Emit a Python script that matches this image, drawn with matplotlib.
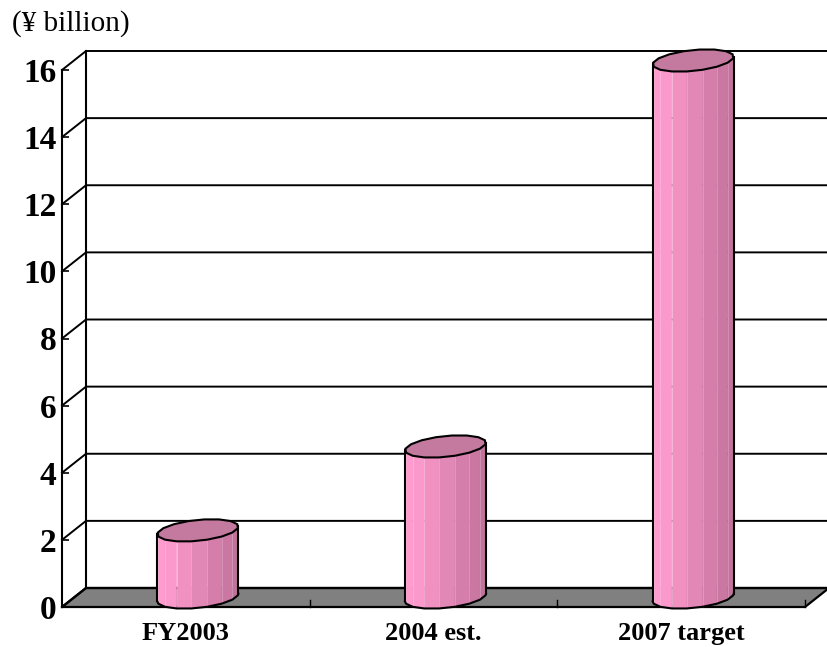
import numpy as np
import matplotlib
matplotlib.use("Agg")
import matplotlib.pyplot as plt
from matplotlib.patches import Polygon
from matplotlib.colors import to_rgb

# chart data
categories = ["FY2003", "2004 est.", "2007 target"]
values = [2.0, 4.5, 16.0]
y_ticks = [0, 2, 4, 6, 8, 10, 12, 14, 16]
unit_label = "(\u00a5 billion)"

SERIF = ["Liberation Serif", "DejaVu Serif"]
DPI = 100

fig = plt.figure(figsize=(8.28, 6.47), dpi=DPI)
fig_w, fig_h = fig.get_size_inches() * DPI

# front plane of the pseudo-3D box
ax = fig.add_axes([62 / fig_w, 40 / fig_h, 743 / fig_w, 537 / fig_h])
ax.set_xlim(-0.5, 2.5)
ax.set_ylim(0, 16)

# depth offset of the back wall (pixels -> data units)
px_x = 743 / 3.0
px_y = 537 / 16.0
ddx = 24 / px_x
ddy = 19 / px_y

x0, x1 = -0.5, 2.5
ymax = 16

# floor
floor = Polygon([(x0, 0), (x1, 0), (x1 + ddx, ddy), (x0 + ddx, ddy)],
                closed=True, facecolor="#808080", edgecolor="black",
                linewidth=1.6, clip_on=False, zorder=1)
ax.add_patch(floor)

# back wall vertical edge and left wall
ax.plot([x0 + ddx, x0 + ddx], [ddy, ymax + ddy], color="black", lw=1.5,
        clip_on=False, zorder=2)
for v in y_ticks:
    ax.plot([x0, x0 + ddx, x1 + ddx], [v, v + ddy, v + ddy],
            color="black", lw=1.4 if v else 1.6, clip_on=False, zorder=2)

# ticks on the floor front edge at category boundaries
for b in [0.5, 1.5, 2.5]:
    ax.plot([b, b], [0, 7 / px_y], color="black", lw=1.0,
            clip_on=False, zorder=2)


def draw_cylinder(ax, xc, value, n=16):
    # oblique projection of a polygonal cylinder standing at mid depth
    R = 38 / px_x
    D = 18.0
    ux, uy = 24 / np.hypot(24, 19), 19 / np.hypot(24, 19)
    base = ddy / 2
    top = value + ddy / 2
    cx = xc + ddx / 2

    th = np.linspace(0, 2 * np.pi, n + 1) + np.pi / n

    def ring(t, h):
        return (cx + R * np.cos(t) + D * np.sin(t) * ux / px_x,
                h + D * np.sin(t) * uy / px_y)

    # silhouette angles
    ts = np.arctan((D * ux / px_x) / R)
    t_left = np.pi + ts
    t_right = 2 * np.pi + ts
    allt = np.concatenate([th, th + 2 * np.pi, th - 2 * np.pi])
    front = np.concatenate([[t_left],
                            allt[(allt > t_left) & (allt < t_right)],
                            [t_right]])
    front = np.unique(front)

    light = np.array(to_rgb("#ff9bcf"))
    dark = np.array(to_rgb("#c0709a"))
    xl = ring(t_left, 0)[0]
    xr = ring(t_right, 0)[0]
    for a, b in zip(front[:-1], front[1:]):
        xa, ya = ring(a, base)
        xb, yb = ring(b, base)
        xa2, ya2 = ring(a, top)
        xb2, yb2 = ring(b, top)
        t = ((xa + xb) / 2 - xl) / (xr - xl)
        k = np.clip((t - 0.12) / 0.88, 0, 1)
        col = light * (1 - k) + dark * k
        ax.add_patch(Polygon([(xa, ya), (xb, yb), (xb2, yb2), (xa2, ya2)],
                             closed=True, facecolor=col, edgecolor=col,
                             linewidth=0.4, clip_on=False, zorder=3))
        # faint facet seams
        ax.plot([xb, xb2], [yb, yb2], color=(1, 1, 1, 0.25), lw=0.6,
                clip_on=False, zorder=3.1)

    # outline of the body
    bx, by = ring(front, base)
    ax.plot(bx, by, color="black", lw=1.5, clip_on=False, zorder=4)
    lx, ly = ring(t_left, base)
    lx2, ly2 = ring(t_left, top)
    rx, ry = ring(t_right, base)
    rx2, ry2 = ring(t_right, top)
    ax.plot([lx, lx2], [ly, ly2], color="black", lw=1.5, clip_on=False, zorder=4)
    ax.plot([rx, rx2], [ry, ry2], color="black", lw=1.5, clip_on=False, zorder=4)

    # top cap
    tx, ty = ring(th, top)
    ax.add_patch(Polygon(np.column_stack([tx, ty]), closed=True,
                         facecolor="#c47a9f", edgecolor="black",
                         linewidth=1.5, clip_on=False, zorder=5))


for i, v in enumerate(values):
    draw_cylinder(ax, i, v)

# axes styling
for side in ["top", "right", "bottom"]:
    ax.spines[side].set_visible(False)
ax.spines["left"].set_linewidth(1.5)
ax.spines["left"].set_zorder(2)
ax.set_facecolor("none")

ax.set_yticks(y_ticks)
ax.set_yticklabels([str(v) for v in y_ticks], fontfamily=SERIF,
                   fontweight="bold", fontsize=24)
ax.tick_params(axis="y", direction="in", length=5, width=1.2, pad=4)

ax.set_xticks(range(len(categories)))
ax.set_xticklabels(categories, fontfamily=SERIF, fontweight="bold",
                   fontsize=19)
ax.tick_params(axis="x", length=0, pad=11)

fig.text(12 / fig_w, 1 - 24 / fig_h, unit_label, fontfamily=SERIF,
         fontsize=21, ha="left", va="center")

fig.savefig("out.png", dpi=DPI)
